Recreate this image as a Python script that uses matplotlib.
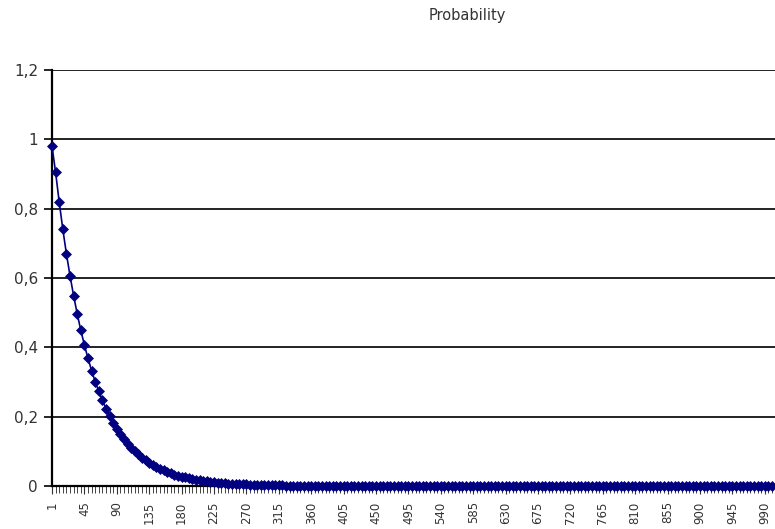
import matplotlib
matplotlib.use("Agg")
import matplotlib.pyplot as plt
from matplotlib.ticker import FixedLocator, FuncFormatter

plt.rcParams['font.family'] = ['DejaVu Sans']

# category labels: 1, 5, 10, ... 1000
categories = [1] + list(range(5, 1001, 5))

probability = [
    0.980, 0.905, 0.819, 0.741, 0.670, 0.607, 0.549, 0.497, 0.449, 0.407,
    0.368, 0.333, 0.301, 0.273, 0.247, 0.223, 0.202, 0.183, 0.165, 0.150,
    0.135, 0.122, 0.111, 0.100, 0.091, 0.082, 0.074, 0.067, 0.061, 0.055,
    0.050, 0.045, 0.041, 0.037, 0.033, 0.030, 0.027, 0.025, 0.022, 0.020,
    0.018, 0.017, 0.015, 0.014, 0.012, 0.011, 0.010, 0.009, 0.008, 0.007,
    0.007, 0.006, 0.006, 0.005, 0.005, 0.004, 0.004, 0.003, 0.003, 0.003,
    0.002, 0.002, 0.002, 0.002, 0.002, 0.001, 0.001, 0.001, 0.001, 0.001,
    0.001, 0.001, 0.001, 0.001, 0.001, 0.001, 0.000, 0.000, 0.000, 0.000,
    0.000, 0.000, 0.000, 0.000, 0.000, 0.000, 0.000, 0.000, 0.000, 0.000,
    0.000, 0.000, 0.000, 0.000, 0.000, 0.000, 0.000, 0.000, 0.000, 0.000,
    0.000, 0.000, 0.000, 0.000, 0.000, 0.000, 0.000, 0.000, 0.000, 0.000,
    0.000, 0.000, 0.000, 0.000, 0.000, 0.000, 0.000, 0.000, 0.000, 0.000,
    0.000, 0.000, 0.000, 0.000, 0.000, 0.000, 0.000, 0.000, 0.000, 0.000,
    0.000, 0.000, 0.000, 0.000, 0.000, 0.000, 0.000, 0.000, 0.000, 0.000,
    0.000, 0.000, 0.000, 0.000, 0.000, 0.000, 0.000, 0.000, 0.000, 0.000,
    0.000, 0.000, 0.000, 0.000, 0.000, 0.000, 0.000, 0.000, 0.000, 0.000,
    0.000, 0.000, 0.000, 0.000, 0.000, 0.000, 0.000, 0.000, 0.000, 0.000,
    0.000, 0.000, 0.000, 0.000, 0.000, 0.000, 0.000, 0.000, 0.000, 0.000,
    0.000, 0.000, 0.000, 0.000, 0.000, 0.000, 0.000, 0.000, 0.000, 0.000,
    0.000, 0.000, 0.000, 0.000, 0.000, 0.000, 0.000, 0.000, 0.000, 0.000,
    0.000,
]

y_ticks = [0, 0.2, 0.4, 0.6, 0.8, 1.0, 1.2]

W, H = 775, 529
fig = plt.figure(figsize=(W / 100, H / 100), dpi=100)
ax = fig.add_axes([52 / W, 1 - 486 / H, 1 - 52 / W, (486 - 70) / H])

idx = list(range(len(categories)))
ax.plot(idx, probability, color='#000080', lw=1.2, marker='D',
        markersize=5, markeredgewidth=0.5, clip_on=False, zorder=3)

# about 3.6 px per category, axis runs off the right edge
ax.set_xlim(0, (W - 52) / 3.6)
ax.set_ylim(0, 1.2)

ax.set_yticks(y_ticks)
ax.yaxis.set_major_formatter(FuncFormatter(lambda v, p: ('%g' % round(v, 1)).replace('.', ',')))
ax.yaxis.grid(True, color='#111111', lw=1.3)
ax.set_axisbelow(True)

# labels every 9th category, a tick mark on every category
ax.xaxis.set_major_locator(FixedLocator(idx[::9]))
ax.set_xticklabels([str(c) for c in categories[::9]], rotation=90)
ax.xaxis.set_minor_locator(FixedLocator(idx))
ax.tick_params(axis='x', which='major', length=6, width=0.8, color='#333333',
               labelsize=8.5, pad=5, labelcolor='#333333')
ax.tick_params(axis='x', which='minor', length=5, width=0.7, color='#444444')
ax.tick_params(axis='y', length=6, width=1.2, labelsize=11, labelcolor='#333333', pad=4)

for s in ['top', 'right']:
    ax.spines[s].set_visible(False)
ax.spines['left'].set_linewidth(1.6)
ax.spines['bottom'].set_linewidth(1.6)

fig.text(467 / W, 1 - 20 / H, 'Probability', ha='center', va='baseline',
         fontsize=10.5, color='#333333')

fig.savefig('out.png', dpi=100)
